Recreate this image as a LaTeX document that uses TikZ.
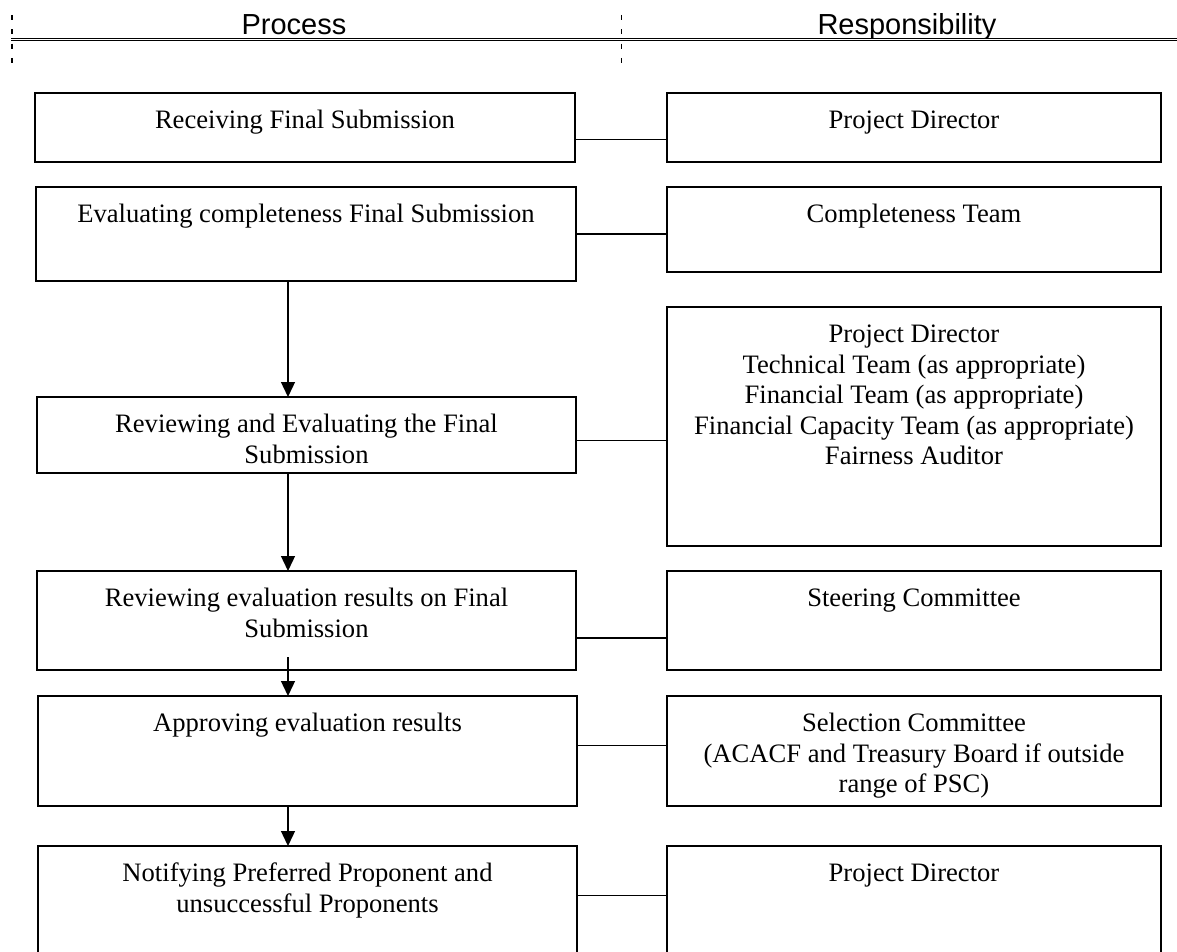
\documentclass[tikz,border=0pt]{standalone}
\usepackage{fontspec}
\setmainfont{Liberation Serif}
\newfontfamily\headfont{Liberation Sans}
\usetikzlibrary{arrows.meta}

% top-aligned, centred cell text: #1 height, #2 width, #3 lines
\newcommand{\cellbox}[3]{\parbox[c][#1][t]{#2}{\centering\fontsize{26.6}{30.6}\selectfont\rule{0pt}{35.5pt}#3\par}}

\tikzset{
  cell/.style={draw, line width=1.7pt, rectangle, inner sep=0pt, outer sep=0pt, anchor=north west},
  link/.style={line width=1.5pt},
  flow/.style={line width=1.3pt, -{Triangle[width=14pt,length=15pt]}},
  colhead/.style={font=\headfont\fontsize{29}{34}\selectfont, anchor=base, inner sep=0pt},
  divider/.style={line width=1.2pt, dash pattern=on 5pt off 9.3pt}
}

\begin{document}
\begin{tikzpicture}[x=1pt, y=1pt]
\useasboundingbox (0,0) rectangle (1177,-952);

% column headings
\node[colhead] (hp) at (294,-35) {Process};
\node[colhead] (hr) at (907,-35) {Responsibility};
\coordinate (rl) at (11,-39.5);
\coordinate (rr) at (1177,-39.5);
\draw[line width=1pt, double, double distance=0.8pt] (rl) -- (rr);
\coordinate (d1a) at (12,-15);
\coordinate (d1b) at (12,-63);
\coordinate (d2a) at (621.5,-15);
\coordinate (d2b) at (621.5,-63);
\draw[divider] (d1a) -- (d1b);
\draw[divider] (d2a) -- (d2b);

% process column
\node[cell] (P1) at (35,-93)  {\cellbox{69pt}{540pt}{Receiving Final Submission}};
\node[cell] (P2) at (36,-187) {\cellbox{94pt}{540pt}{Evaluating completeness Final Submission}};
\node[cell] (P3) at (37,-397) {\cellbox{76pt}{539pt}{Reviewing and Evaluating the Final\\Submission}};
\node[cell] (P4) at (37,-571) {\cellbox{99pt}{539pt}{Reviewing evaluation results on Final\\Submission}};
\node[cell] (P5) at (38,-696) {\cellbox{110pt}{539pt}{Approving evaluation results}};
\node[cell] (P6) at (38,-846) {\cellbox{130pt}{539pt}{Notifying Preferred Proponent and\\unsuccessful Proponents}};

% responsibility column
\node[cell] (R1) at (667,-93)  {\cellbox{69pt}{494pt}{Project Director}};
\node[cell] (R2) at (667,-187) {\cellbox{85pt}{494pt}{Completeness Team}};
\node[cell] (R3) at (667,-307) {\cellbox{239pt}{494pt}{Project Director\\Technical Team (as appropriate)\\Financial Team (as appropriate)\\Financial Capacity Team (as appropriate)\\Fairness Auditor}};
\node[cell] (R4) at (667,-571) {\cellbox{99pt}{494pt}{Steering Committee}};
\node[cell] (R5) at (667,-696) {\cellbox{110pt}{494pt}{Selection Committee\\(ACACF and Treasury Board if outside\\range of PSC)}};
\node[cell] (R6) at (667,-846) {\cellbox{130pt}{494pt}{Project Director}};

% links between a step and its owner
\coordinate (c1) at (0,-139.4);
\coordinate (c2) at (0,-234);
\coordinate (c3) at (0,-440.6);
\coordinate (c4) at (0,-637.8);
\coordinate (c5) at (0,-745.6);
\coordinate (c6) at (0,-895.6);
\draw[link] (P1.east |- c1) -- (R1.west |- c1);
\draw[link] (P2.east |- c2) -- (R2.west |- c2);
\draw[link] (P3.east |- c3) -- (R3.west |- c3);
\draw[link] (P4.east |- c4) -- (R4.west |- c4);
\draw[link] (P5.east |- c5) -- (R5.west |- c5);
\draw[link] (P6.east |- c6) -- (R6.west |- c6);

% flow between steps
\coordinate (ax) at (288,0);
\coordinate (a4) at (288,-657);
\draw[flow] (P2.south -| ax) -- (P3.north -| ax);
\draw[flow] (P3.south -| ax) -- (P4.north -| ax);
\draw[flow] (a4) -- (P5.north -| a4);
\draw[flow] (P5.south -| ax) -- (P6.north -| ax);
\end{tikzpicture}
\end{document}
